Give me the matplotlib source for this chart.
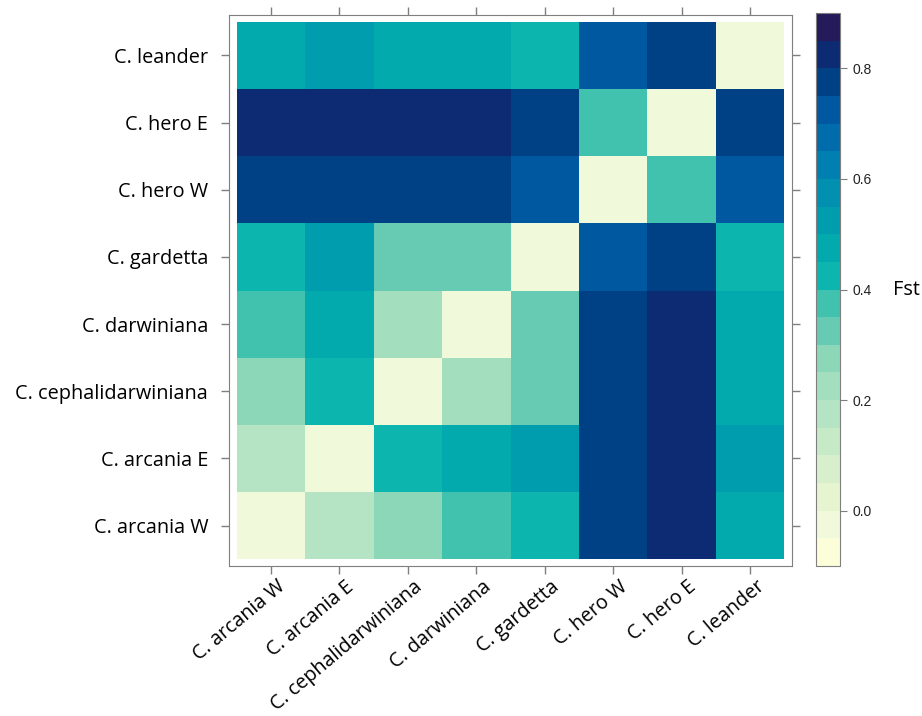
import numpy as np
import matplotlib
matplotlib.use('Agg')
import matplotlib.pyplot as plt
import matplotlib.transforms as mtransforms
from matplotlib.colors import ListedColormap, BoundaryNorm

plt.rcParams['font.family'] = ['Open Sans', 'DejaVu Sans']

pops = ['C. arcania W', 'C. arcania E', 'C. cephalidarwiniana', 'C. darwiniana',
        'C. gardetta', 'C. hero W', 'C. hero E', 'C. leander']

# pairwise Fst, rows/cols in the order of pops (symmetric)
fst_arcW = [0.00, 0.18, 0.28, 0.38, 0.43, 0.78, 0.83, 0.48]
fst_arcE = [0.18, 0.00, 0.43, 0.48, 0.53, 0.78, 0.83, 0.53]
fst_ceph = [0.28, 0.43, 0.00, 0.23, 0.33, 0.78, 0.83, 0.48]
fst_darw = [0.38, 0.48, 0.23, 0.00, 0.33, 0.78, 0.83, 0.48]
fst_gard = [0.43, 0.53, 0.33, 0.33, 0.00, 0.73, 0.78, 0.43]
fst_herW = [0.78, 0.78, 0.78, 0.78, 0.73, 0.00, 0.38, 0.73]
fst_herE = [0.83, 0.83, 0.83, 0.83, 0.78, 0.38, 0.00, 0.78]
fst_lean = [0.48, 0.53, 0.48, 0.48, 0.43, 0.73, 0.78, 0.00]

cbar_ticks = [0.0, 0.2, 0.4, 0.6, 0.8]

fst = np.array([fst_arcW, fst_arcE, fst_ceph, fst_darw,
                fst_gard, fst_herW, fst_herE, fst_lean])

# colour levels, like lattice at=seq(-0.1,0.9,0.05)
levels = np.round(np.linspace(-0.1, 0.9, 21), 2)
pal = ['#fbfed8', '#f0fadb', '#e6f5d0', '#d7f0cb', '#c6eac6',
       '#b4e4c4', '#a3dfbe', '#8cd7b8', '#67cbb3', '#40c2af',
       '#0cb5ad', '#02aaae', '#009daf', '#0190b0', '#0080b0',
       '#006cab', '#0059a0', '#004185', '#0c2b72', '#251a5a']
cmap = ListedColormap(pal)
norm = BoundaryNorm(levels, cmap.N)

# lattice bins are right-closed
idx = np.searchsorted(levels, fst, side='left') - 1

W, H = 922, 716
fig = plt.figure(figsize=(W/100, H/100), dpi=100)
ax = fig.add_axes([229/W, 1-566/H, (792-229)/W, (566-15)/H])

x = np.arange(len(pops)+1) - 0.5
ax.pcolormesh(x, x, idx, cmap=cmap, vmin=-0.5, vmax=19.5,
              antialiased=False, linewidth=0)
ax.set_xlim(-0.61, 7.61)
ax.set_ylim(-0.6, 7.6)

ax.set_xticks(range(len(pops)))
ax.set_yticks(range(len(pops)))
ax.set_xticklabels(pops, rotation=40, ha='right', rotation_mode='anchor',
                   fontsize=14.2)
ax.set_yticklabels(pops, fontsize=14.3)
ax.tick_params(which='both', direction='out', length=6, width=1,
               color='#7f7f7f', top=True, right=True, pad=9)
for s in ax.spines.values():
    s.set_color('#7f7f7f')
shift = mtransforms.ScaledTranslation(6/100, 10/100, fig.dpi_scale_trans)
for lab in ax.get_xticklabels():
    lab.set_transform(lab.get_transform() + shift)

cax = fig.add_axes([816/W, 1-566/H, 24/W, (566-13)/H])
sm = plt.cm.ScalarMappable(cmap=cmap, norm=norm)
cb = fig.colorbar(sm, cax=cax, ticks=cbar_ticks)
cb.outline.set_edgecolor('#7f7f7f')
cax.minorticks_off()
cax.tick_params(length=5, color='#7f7f7f', pad=4)
cax.set_yticklabels(['%.1f' % t for t in cbar_ticks],
                    fontfamily='Liberation Sans', fontsize=10, color='#222222')

fig.text(893/W, 1-290/H, 'Fst', fontsize=14.3, va='center', ha='left')

plt.savefig('out.png', dpi=100)
